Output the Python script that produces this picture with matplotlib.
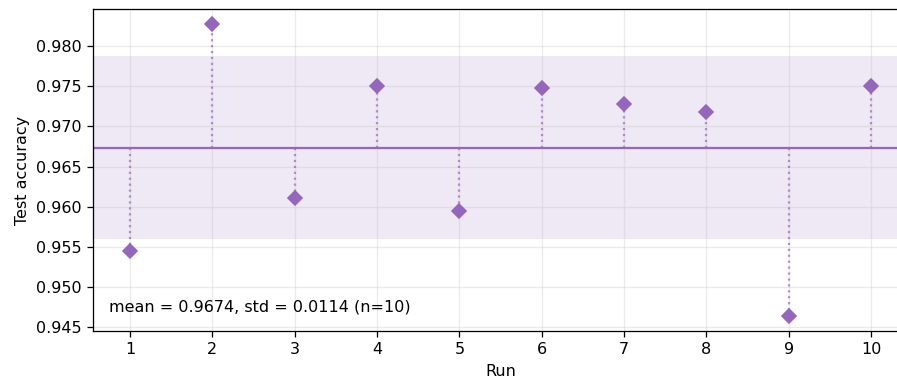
import numpy as np
import matplotlib
matplotlib.use("Agg")
import matplotlib.pyplot as plt

runs = [1, 2, 3, 4, 5, 6, 7, 8, 9, 10]
accuracy = [0.9545, 0.9828, 0.9611, 0.9750, 0.9595, 0.9748, 0.9728, 0.9718, 0.9463, 0.9751]

COLOR = "#9467bd"
DPI = 115

acc = np.array(accuracy)
mean = acc.mean()
std = acc.std(ddof=1)

fig = plt.figure(figsize=(897 / DPI, 381 / DPI), dpi=DPI)
ax = fig.add_axes([0.1037, 0.131, 0.9086, 0.845])

ax.axhspan(mean - std, mean + std, color=COLOR, alpha=0.15, lw=0, zorder=0)
ax.axhline(mean, color=COLOR, lw=1.4, zorder=2)
ax.vlines(runs, mean, accuracy, colors=COLOR, linestyles=":", lw=1.4, alpha=0.7, zorder=2)
ax.plot(runs, accuracy, "D", color=COLOR, ms=6.5, zorder=3)

ax.text(0.02, 0.05, f"mean = {mean:.4f}, std = {std:.4f} (n={len(accuracy)})",
        transform=ax.transAxes, fontsize=10, va="bottom", ha="left")

ax.set_xticks(runs)
ax.set_xlabel("Run")
ax.set_ylabel("Test accuracy")
ax.grid(True, color="#cccccc", alpha=0.4, lw=0.8)
ax.set_axisbelow(True)

fig.savefig("out.png", dpi=DPI)
